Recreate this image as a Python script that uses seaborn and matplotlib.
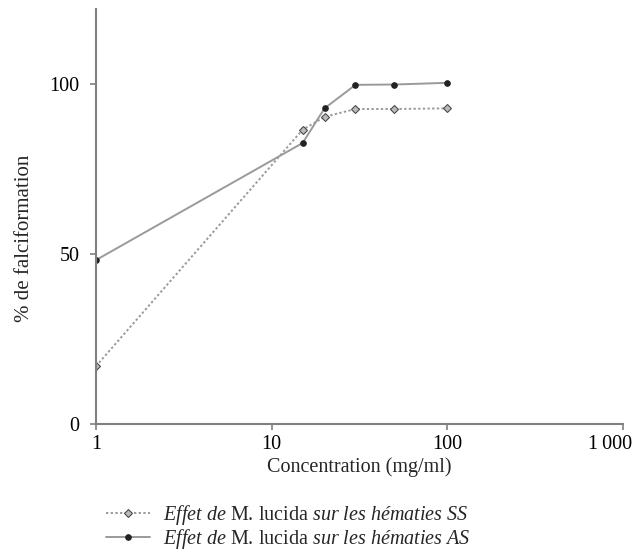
import numpy as np
import pandas as pd
import matplotlib
matplotlib.use("Agg")
import matplotlib.pyplot as plt
import matplotlib.ticker as mticker
import matplotlib.transforms as mtransforms
import seaborn as sns


# ============================================================
# DONNÉES
# ============================================================

concentration_ss = [1, 15, 20, 30, 50, 100]
falciformation_ss = [17, 86.5, 90.3, 92.6, 92.6, 92.8]

concentration_as = [1, 15, 20, 30, 50, 100]
falciformation_as = [48.2, 82.6, 92.8, 99.7, 99.8, 100.3]

x_ticks = [1, 10, 100, 1000]
x_tick_labels = ["1", "10", "100", "1\u2009000"]
y_ticks = [0, 50, 100]

label_ss = r"$\mathit{Effet\ de}$ M. lucida $\mathit{sur\ les\ hématies\ SS}$"
label_as = r"$\mathit{Effet\ de}$ M. lucida $\mathit{sur\ les\ hématies\ AS}$"


# ============================================================
# FIGURE
# ============================================================

sns.set_style("ticks")
plt.rcParams["font.family"] = ["Liberation Serif", "DejaVu Serif"]
plt.rcParams["mathtext.fontset"] = "custom"
plt.rcParams["mathtext.rm"] = "Liberation Serif"
plt.rcParams["mathtext.it"] = "Liberation Serif:italic"

df_ss = pd.DataFrame({"x": concentration_ss, "y": falciformation_ss})
df_as = pd.DataFrame({"x": concentration_as, "y": falciformation_as})

fig = plt.figure(figsize=(6.42, 5.52), dpi=100)
ax = fig.add_axes([96 / 642, 128 / 552, 527 / 642, 415 / 552])

line_col = "#9a9a9a"
sns.lineplot(data=df_ss, x="x", y="y", ax=ax, color=line_col, linewidth=1.4,
             linestyle=(0, (1.2, 1.2)), marker="D", markersize=4,
             markerfacecolor="#bbbbbb", markeredgecolor="#444444",
             label=label_ss)
sns.lineplot(data=df_as, x="x", y="y", ax=ax, color=line_col, linewidth=1.4,
             linestyle="-", marker="o", markersize=4,
             markerfacecolor="#222222", markeredgecolor="#222222",
             label=label_as)

ax.set_xscale("log")
ax.set_xlim(1, 1000)
ax.set_ylim(0, 122)
ax.set_xticks(x_ticks)
ax.set_xticklabels(x_tick_labels)
ax.xaxis.set_minor_locator(mticker.NullLocator())
ax.set_yticks(y_ticks)

sns.despine(ax=ax)
for side in ["left", "bottom"]:
    ax.spines[side].set_color("#808080")
    ax.spines[side].set_linewidth(1.5)
ax.tick_params(axis="both", colors="#808080", length=4, width=1.2,
               labelcolor="black", labelsize=14.5)
ax.tick_params(axis="y", pad=8)
ax.tick_params(axis="x", pad=4)

# le dernier libellé est décalé vers la gauche pour rester dans l'image
last = ax.get_xticklabels()[-1]
last.set_transform(last.get_transform() +
                   mtransforms.ScaledTranslation(-0.13, 0, fig.dpi_scale_trans))

ax.set_xlabel("Concentration (mg/ml)", fontsize=14.5, labelpad=2)
ax.set_ylabel("% de falciformation", fontsize=15)
ax.yaxis.set_label_coords(-0.118, 0.448)

handles, labels = ax.get_legend_handles_labels()
ax.get_legend().remove()
fig.legend(handles, labels, loc="upper left",
           bbox_to_anchor=(96 / 642, 1 - 493 / 552), frameon=False,
           fontsize=14.5, handlelength=2.2, handletextpad=0.65,
           labelspacing=0.02, borderpad=0)

plt.savefig("out.png", dpi=100)
plt.close()
